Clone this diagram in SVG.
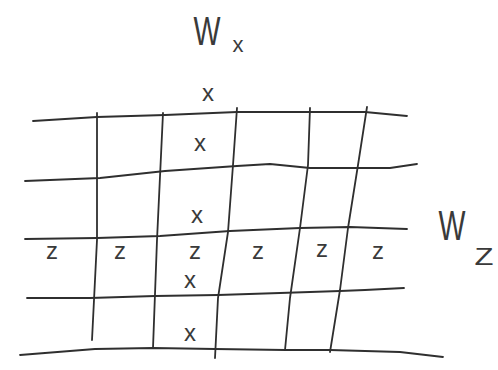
<svg xmlns="http://www.w3.org/2000/svg" width="498" height="370" viewBox="0 0 498 370">
<style>
.ln{fill:none;stroke:#2f2f2f;stroke-width:1.8;stroke-linejoin:round;stroke-linecap:round}
.t{font-family:"Liberation Sans",Arial,sans-serif;fill:#3a3a3a;text-anchor:middle}
.s{font-size:24px}
.z{font-size:24px}
</style>
<rect width="498" height="370" fill="#ffffff"/>
<g id="connectors">
<path class="ln" d="M33,121 L97,117 L165,115 L237,112 L310,112 L365,112 L407,116"/>
<path class="ln" d="M25,181 L100,178 L165,171 L237,166 L270,164 L310,168 L390,168 L417,164"/>
<path class="ln" d="M25,239 L97,238 L160,236 L230,231 L300,228 L350,227 L407,229"/>
<path class="ln" d="M27,298 L90,298 L155,296 L218,295 L280,293 L340,291 L365,290 L404,288"/>
<path class="ln" d="M20,355 L95,349 L153,348 L215,349 L285,350 L330,350 L400,352 L443,357"/>
<path class="ln" d="M97,113 L97,240 L92,340"/>
<path class="ln" d="M163,113 L157,240 L153,348"/>
<path class="ln" d="M237,108 L233,165 L228,232 L218,298 L215,358"/>
<path class="ln" d="M310,108 L308,165 L300,228 L290,298 L285,350"/>
<path class="ln" d="M367,107 L358,165 L348,228 L340,290 L330,352"/>
</g>
<g id="label-wx">
<text class="t" x="207" y="45" font-size="40" textLength="27" lengthAdjust="spacingAndGlyphs">W</text>
<text class="t" x="238" y="52" font-size="22">x</text>
</g>
<g id="label-wz">
<text class="t" x="452" y="240" font-size="42" textLength="27" lengthAdjust="spacingAndGlyphs">W</text>
<text class="t" x="484" y="265" font-size="24" textLength="19" lengthAdjust="spacingAndGlyphs">Z</text>
</g>
<g id="x-labels">
<text class="t s" x="208" y="101">x</text>
<text class="t s" x="200" y="151">x</text>
<text class="t s" x="197" y="223">x</text>
<text class="t s" x="190" y="288">x</text>
<text class="t s" x="190" y="341">x</text>
</g>
<g id="z-labels">
<text class="t z" x="52" y="259">z</text>
<text class="t z" x="120" y="259">z</text>
<text class="t z" x="195" y="259">z</text>
<text class="t z" x="258" y="259">z</text>
<text class="t z" x="322" y="257">z</text>
<text class="t z" x="378" y="259">z</text>
</g>
</svg>
